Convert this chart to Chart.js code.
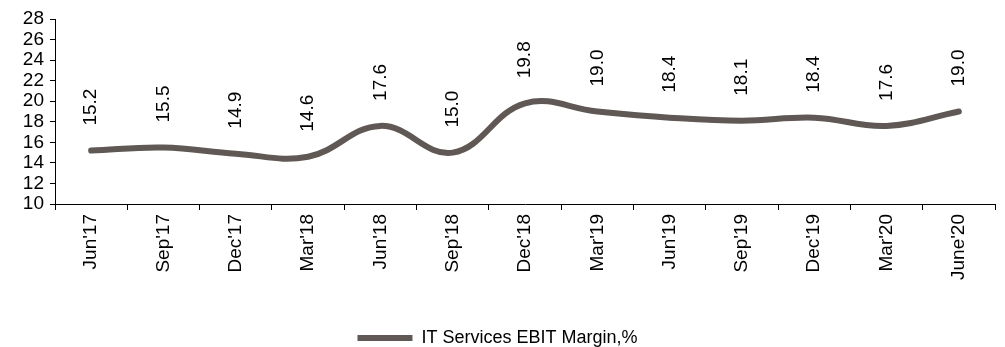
<!DOCTYPE html>
<html>
<head>
<meta charset="utf-8">
<script src="https://cdn.jsdelivr.net/npm/chart.js@4"></script>
<style>
  html, body { margin: 0; padding: 0; background: #fff; }
  #wrap { width: 1005px; height: 347px; }
</style>
</head>
<body>
<div id="wrap"><canvas id="ebitChart"></canvas></div>
<script>
const quarters = ["Jun'17", "Sep'17", "Dec'17", "Mar'18", "Jun'18", "Sep'18", "Dec'18", "Mar'19", "Jun'19", "Sep'19", "Dec'19", "Mar'20", "June'20"];
const ebitMargin = [15.2, 15.5, 14.9, 14.6, 17.6, 15.0, 19.8, 19.0, 18.4, 18.1, 18.4, 17.6, 19.0];
const seriesLabel = 'IT Services EBIT Margin,%';

const FONT = "'Liberation Sans', Arial, sans-serif";
const lineColor = '#5f5854';

// value labels, rotated, sitting above each point
const valueLabels = {
    id: 'valueLabels',
    afterDatasetsDraw(chart) {
        const ctx = chart.ctx;
        const meta = chart.getDatasetMeta(0);
        ctx.save();
        ctx.fillStyle = '#000';
        ctx.font = '19px ' + FONT;
        ctx.textAlign = 'left';
        ctx.textBaseline = 'middle';
        meta.data.forEach((pt, i) => {
            ctx.save();
            ctx.translate(pt.x, pt.y - 25);
            ctx.rotate(-Math.PI / 2);
            ctx.fillText(ebitMargin[i].toFixed(1), 0, 0);
            ctx.restore();
        });
        ctx.restore();
    }
};

const ctx = document.getElementById('ebitChart').getContext('2d');
new Chart(ctx, {
    type: 'line',
    data: {
        labels: quarters,
        datasets: [{
            label: seriesLabel,
            data: ebitMargin,
            borderColor: lineColor,
            backgroundColor: lineColor,
            borderWidth: 6,
            borderCapStyle: 'round',
            pointRadius: 0,
            tension: 0.4,
            fill: false
        }]
    },
    options: {
        responsive: true,
        maintainAspectRatio: false,
        animation: false,
        // negative bottom pulls the legend down to the canvas edge
        layout: { padding: { top: 19, right: 10, left: 0, bottom: -10 } },
        scales: {
            x: {
                offset: true,
                grid: { offset: true, drawOnChartArea: false, color: '#000', tickLength: 6 },
                border: { color: '#000', width: 1 },
                ticks: {
                    color: '#000',
                    font: { family: FONT, size: 19 },
                    maxRotation: 90,
                    minRotation: 90,
                    autoSkip: false,
                    padding: 4
                },
                afterFit(scale) { scale.height = 123; }
            },
            y: {
                min: 10,
                max: 28,
                ticks: {
                    stepSize: 2,
                    autoSkip: false,
                    color: '#000',
                    font: { family: FONT, size: 19 },
                    padding: 6
                },
                grid: { drawOnChartArea: false, color: '#000', tickLength: 5 },
                border: { color: '#000', width: 1 },
                afterFit(scale) { scale.width = 55; }
            }
        },
        plugins: {
            legend: {
                position: 'bottom',
                labels: {
                    color: '#000',
                    font: { family: FONT, size: 18 },
                    usePointStyle: true,
                    pointStyle: 'line',
                    pointStyleWidth: 55,
                    padding: 2
                }
            },
            tooltip: { enabled: false }
        }
    },
    plugins: [valueLabels]
});
</script>
</body>
</html>
